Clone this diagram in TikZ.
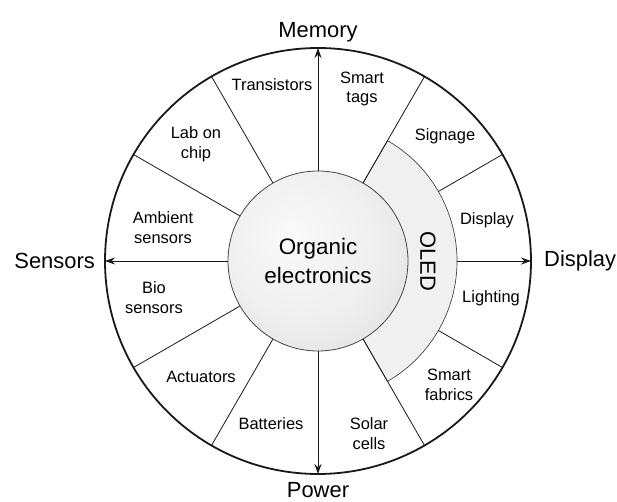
\documentclass[tikz,border=0pt]{standalone}
\usepackage{fontspec}
\setmainfont{Liberation Sans}
\usetikzlibrary{arrows.meta,positioning}
\definecolor{ink}{RGB}{25,25,25}
\definecolor{oledfill}{RGB}{240,240,240}
\definecolor{hubedge}{RGB}{70,70,70}
\pgfdeclareradialshading{hubglow}{\pgfpoint{-8bp}{8bp}}{color(0bp)=(black!2); color(20bp)=(black!6); color(42bp)=(black!14); color(50bp)=(black!18)}
\tikzstyle{arrow} = [
    line width=0.8bp,
    -{Stealth[length=10bp,width=7bp]},
    draw=ink
]
\tikzstyle{divider} = [
    line width=0.8bp,
    draw=ink
]
\tikzstyle{sector} = [
    align=center,
    inner sep=0pt,
    font=\fontsize{16.5}{20}\selectfont
]
\tikzstyle{outer} = [
    inner sep=1bp,
    font=\fontsize{22}{26}\selectfont
]
\tikzstyle{hub} = [
    circle,
    minimum size=180bp,
    draw=hubedge,
    line width=0.8bp,
    shading=hubglow,
    align=center,
    font=\fontsize{22.5}{30}\selectfont
]

\begin{document}
\begin{tikzpicture}[x=1bp, y=1bp]
    \useasboundingbox (-318,-241) rectangle (299,261);
    % OLED band
    \filldraw[fill=oledfill, draw=hubedge, line width=0.7bp]
        (60:90) -- (60:139) arc[start angle=60, end angle=-60, radius=139] -- (-60:90) -- cycle;
    \node[hub] (hub) at (0,0) {Organic\\electronics};
    \node[rotate=-90, font=\fontsize{22}{26}\selectfont] (oled) at (110,0) {OLED};
    % outer ring
    \draw[line width=1.8bp, draw=ink] (0,0) circle[radius=213];
    \coordinate (memtip) at (90:213);
    \coordinate (sentip) at (180:213);
    \coordinate (powtip) at (270:213);
    \coordinate (distip) at (0:213);
    \coordinate (oledout) at (0:139);
    \draw[arrow] (hub.north) -- (memtip);
    \draw[arrow] (hub.west) -- (sentip);
    \draw[arrow] (hub.south) -- (powtip);
    \draw[arrow] (oledout) -- (distip);
    \foreach \a in {60,120,150,210,240,300}
        \draw[divider] (hub.\a) -- (\a:213);
    \foreach \a in {30,-30}
        \draw[divider] (\a:139) -- (\a:213);
    % axis labels
    \node[outer, above=5bp of memtip] (memory) {Memory};
    \node[outer, below=7bp of powtip] (power) {Power};
    \node[outer, left=9bp of sentip] (sensors) {Sensors};
    \node[outer, right=12bp of distip] (display) {Display};
    % sector labels
    \node[sector] (transistors) at (-46,176) {Transistors};
    \node[sector] (smarttags) at (44,172) {Smart\\tags};
    \node[sector] (labchip) at (-122,117) {Lab on\\chip};
    \node[sector] (ambient) at (-155,33) {Ambient\\sensors};
    \node[sector] (signage) at (127,125) {Signage};
    \node[sector] (displays) at (169,41) {Display};
    \node[sector] (bio) at (-164,-37) {Bio\\sensors};
    \node[sector] (actuators) at (-117,-116) {Actuators};
    \node[sector] (batteries) at (-47,-163) {Batteries};
    \node[sector] (solar) at (51,-173) {Solar\\cells};
    \node[sector] (fabrics) at (131,-124) {Smart\\fabrics};
    \node[sector] (lighting) at (173,-37) {Lighting};
\end{tikzpicture}
\end{document}
